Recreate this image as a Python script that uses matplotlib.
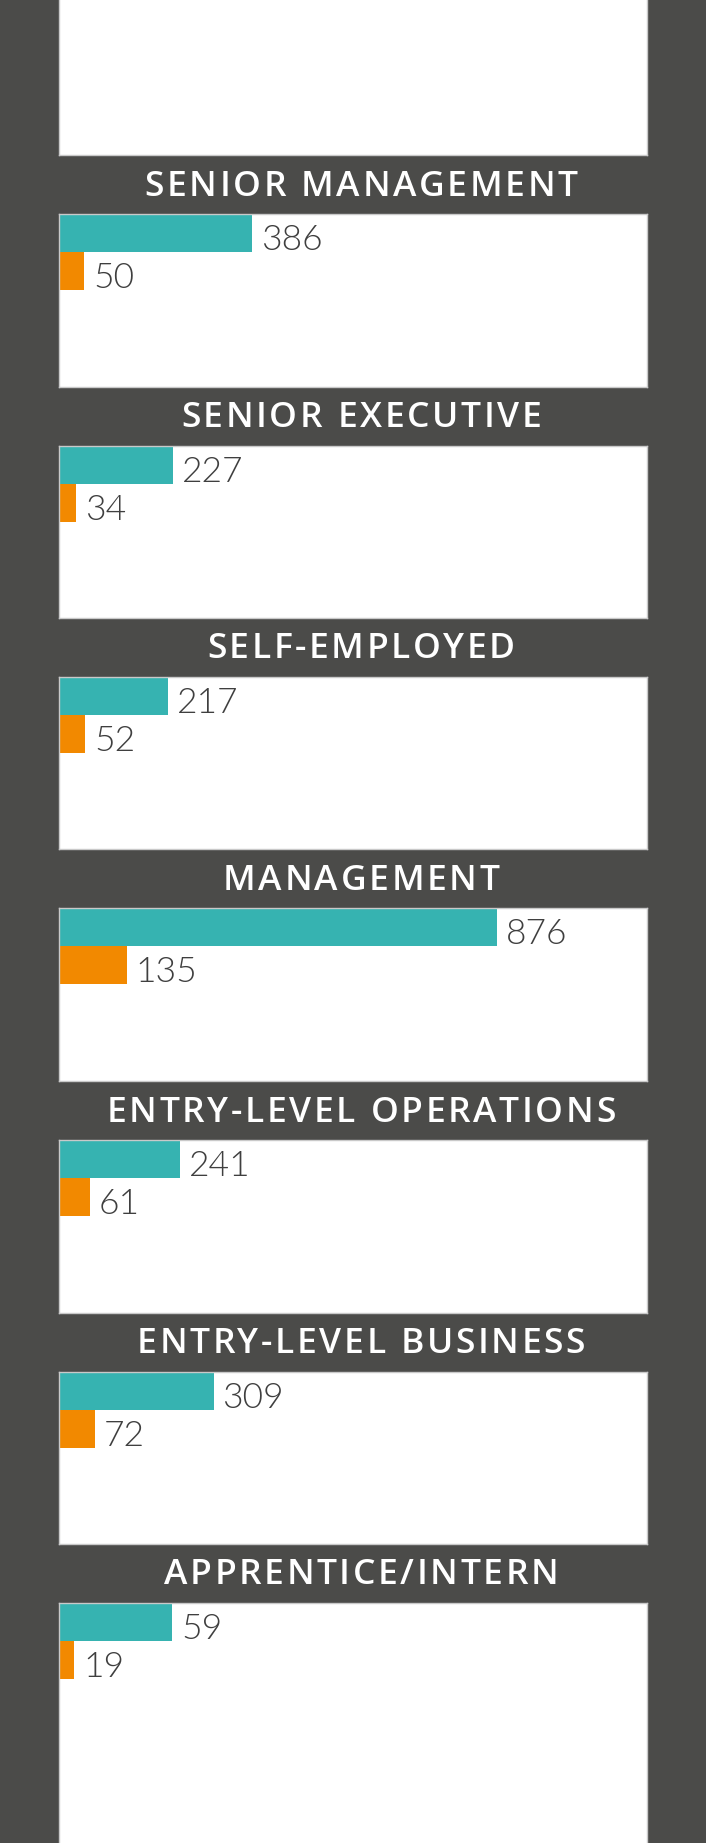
import matplotlib.pyplot as plt

# job levels, top to bottom
levels = ["SENIOR MANAGEMENT", "SENIOR EXECUTIVE", "SELF-EMPLOYED", "MANAGEMENT",
          "ENTRY-LEVEL OPERATIONS", "ENTRY-LEVEL BUSINESS", "APPRENTICE/INTERN"]
teal_values = [386, 227, 217, 876, 241, 309, 59]
orange_values = [50, 34, 52, 135, 61, 72, 19]
# bar lengths as drawn; the last panel's bars are drawn longer than its numbers
teal_bars = [386, 227, 217, 876, 241, 309, 226]
orange_bars = [50, 34, 52, 135, 61, 72, 30]

W, H = 706, 1843
RAIL = "#4b4b49"
TEAL = "#36b3b1"
ORANGE = "#f28900"
XMAX = 1176

fig = plt.figure(figsize=(W / 100, H / 100), dpi=100, facecolor=RAIL)
renderer = fig.canvas.get_renderer()

left, width = 59, 588
first_top, step, panel_h = 214, 231.5, 172.5


def panel(top, h):
    ax = fig.add_axes([left / W, 1 - (top + h) / H, width / W, h / H])
    ax.set_facecolor("white")
    for s in ax.spines.values():
        s.set_color("#c9c9c9")
        s.set_linewidth(1)
    ax.set_xticks([])
    ax.set_yticks([])
    ax.set_xlim(0, XMAX)
    return ax


def spaced_text(xc, y, s, gap=2.6, **kw):
    # draw a header with extra letter spacing (pixels), centred on xc
    widths = []
    for ch in s:
        t = fig.text(0, 0, ch if ch != " " else "n", **kw)
        w = t.get_window_extent(renderer).width
        if ch == " ":
            w *= 0.45
        widths.append(w)
        t.remove()
    total = sum(widths) + gap * (len(s) - 1)
    x = xc - total / 2
    for ch, w in zip(s, widths):
        if ch != " ":
            fig.text(x / W, y, ch, ha="left", va="center", **kw)
        x += w + gap


# empty top panel (ladder continues above)
panel(-20, 175)

for i, name in enumerate(levels):
    top = first_top + i * step
    h = panel_h if i < len(levels) - 1 else H - top + 5
    ax = panel(top, h)
    ax.set_ylim(-0.5 + h / 38.0, -0.5)
    ax.barh([0], [teal_bars[i]], height=1, color=TEAL, edgecolor="none")
    ax.barh([1], [orange_bars[i]], height=1, color=ORANGE, edgecolor="none")
    for y, bl, v in [(0, teal_bars[i], teal_values[i]), (1, orange_bars[i], orange_values[i])]:
        ax.annotate(str(v), xy=(bl, y), xytext=(9, -17), textcoords="offset pixels",
                    ha="left", va="baseline", fontsize=25.5, color="#3f3f3f",
                    family="Lato", fontweight=300)
    # header in the dark gap above the panel
    spaced_text(361, 1 - (top - 27.5) / H, name, fontsize=25.5, color="white",
                family="Open Sans", fontweight=600)

fig.savefig("out.png", dpi=100, facecolor=RAIL)
